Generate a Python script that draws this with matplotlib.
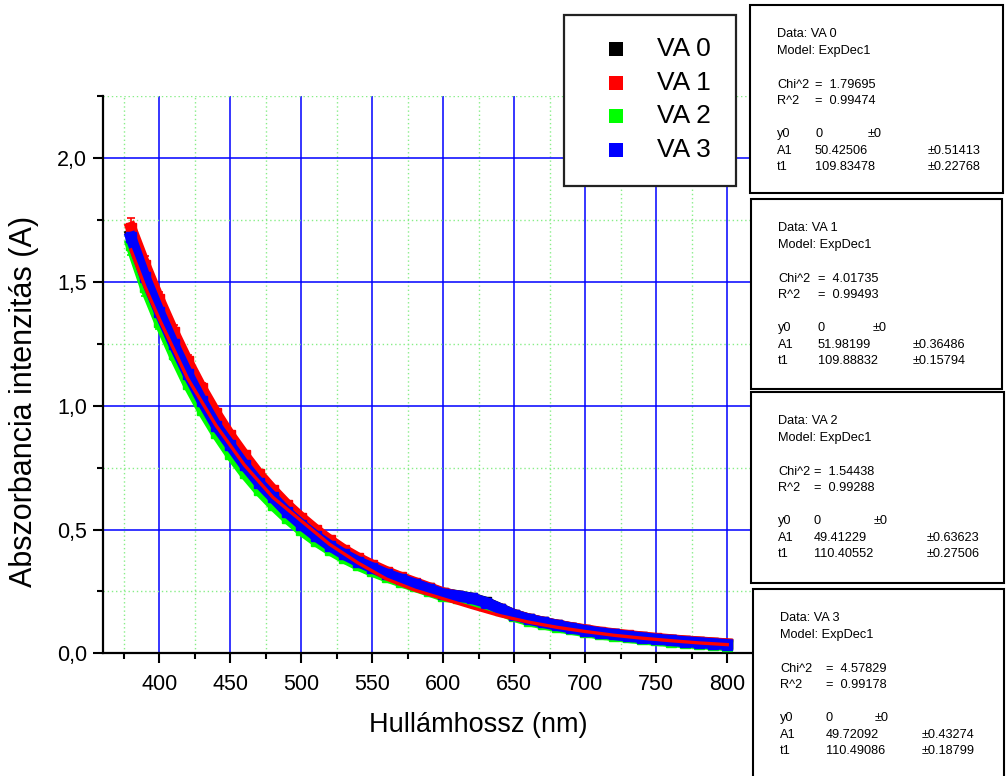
import matplotlib.pyplot as plt
from matplotlib.patches import Rectangle
from matplotlib.ticker import MultipleLocator, FuncFormatter

plt.rcParams['font.family'] = ['Liberation Sans', 'DejaVu Sans']

# wavelength (nm) and absorbance, every 10 nm
wl = [380, 390, 400, 410, 420, 430, 440, 450, 460, 470, 480, 490, 500, 510, 520,
      530, 540, 550, 560, 570, 580, 590, 600, 610, 620, 630, 640, 650, 660, 670,
      680, 690, 700, 710, 720, 730, 740, 750, 760, 770, 780, 790, 800]

va0 = [1.69, 1.53, 1.39, 1.26, 1.14, 1.03, 0.93, 0.845, 0.765, 0.695, 0.635, 0.575, 0.525, 0.48, 0.44,
       0.405, 0.375, 0.348, 0.323, 0.302, 0.282, 0.262, 0.242, 0.233, 0.223, 0.206, 0.181, 0.156, 0.139, 0.126,
       0.114, 0.103, 0.093, 0.084, 0.077, 0.070, 0.064, 0.058, 0.053, 0.048, 0.044, 0.040, 0.036]
va1 = [1.72, 1.57, 1.43, 1.30, 1.18, 1.07, 0.97, 0.88, 0.80, 0.725, 0.66, 0.60, 0.548, 0.50, 0.457,
       0.418, 0.385, 0.356, 0.33, 0.307, 0.286, 0.265, 0.244, 0.231, 0.219, 0.201, 0.178, 0.155, 0.139, 0.126,
       0.114, 0.104, 0.095, 0.086, 0.079, 0.072, 0.066, 0.060, 0.055, 0.050, 0.046, 0.042, 0.038]
va2 = [1.65, 1.48, 1.34, 1.21, 1.09, 0.985, 0.89, 0.805, 0.728, 0.66, 0.60, 0.546, 0.497, 0.455, 0.418,
       0.385, 0.356, 0.331, 0.309, 0.289, 0.27, 0.251, 0.231, 0.223, 0.213, 0.197, 0.173, 0.149, 0.132, 0.119,
       0.107, 0.097, 0.087, 0.078, 0.071, 0.064, 0.058, 0.052, 0.047, 0.043, 0.039, 0.035, 0.031]
va3 = [1.68, 1.52, 1.38, 1.25, 1.13, 1.02, 0.92, 0.84, 0.76, 0.69, 0.63, 0.57, 0.52, 0.475, 0.435,
       0.40, 0.37, 0.345, 0.32, 0.30, 0.28, 0.26, 0.24, 0.232, 0.222, 0.205, 0.18, 0.155, 0.138, 0.125,
       0.113, 0.102, 0.092, 0.083, 0.076, 0.069, 0.063, 0.057, 0.052, 0.047, 0.043, 0.039, 0.035]
err = [0.04, 0.035, 0.03, 0.027, 0.024, 0.021, 0.019, 0.017, 0.015, 0.014, 0.013, 0.012, 0.011, 0.01, 0.009,
       0.008, 0.008, 0.007, 0.007, 0.006, 0.006, 0.006, 0.005, 0.005, 0.005, 0.005, 0.004, 0.004, 0.004, 0.004,
       0.003, 0.003, 0.003, 0.003, 0.003, 0.003, 0.003, 0.002, 0.002, 0.002, 0.002, 0.002, 0.002]

# fitted ExpDec1 curve
fit_wl = [380, 390, 400, 420, 440, 460, 480, 500, 520, 540, 560, 580, 600,
          620, 640, 660, 680, 700, 720, 740, 760, 780, 800]
fit_y = [1.63, 1.48, 1.35, 1.11, 0.92, 0.76, 0.63, 0.535, 0.44, 0.365, 0.30, 0.255, 0.22,
         0.185, 0.152, 0.126, 0.105, 0.088, 0.073, 0.061, 0.051, 0.042, 0.035]

series = [va0, va1, va2, va3]
names = ['VA 0', 'VA 1', 'VA 2', 'VA 3']
colors = ['#000000', '#ff0000', '#00ff00', '#0000ff']

# fit results shown in the boxes
chi2 = ['1.79695', '4.01735', '1.54438', '4.57829']
r2 = ['0.99474', '0.99493', '0.99288', '0.99178']
a1 = ['50.42506', '51.98199', '49.41229', '49.72092']
a1_err = ['0.51413', '0.36486', '0.63623', '0.43274']
t1 = ['109.83478', '109.88832', '110.40552', '110.49086']
t1_err = ['0.22768', '0.15794', '0.27506', '0.18799']

W, H = 1006, 776
fig = plt.figure(figsize=(W / 100, H / 100), dpi=100)


def fx(px):
    return px / W


def fy(py):
    return 1 - py / H


ax = fig.add_axes([fx(102.5), fy(653.3), fx(755.7) - fx(102.5), fy(96.4) - fy(653.3)])

for vals, c in zip(series, colors):
    ax.errorbar(wl, vals, yerr=err, fmt='s-', color=c, ms=7, lw=8,
                elinewidth=1.2, capsize=3, capthick=1.2, zorder=3)
ax.plot(fit_wl, fit_y, color='#ff0000', lw=2.4, zorder=4)

ax.set_xlim(360, 820)
ax.set_ylim(0, 2.25)
ax.xaxis.set_major_locator(MultipleLocator(50))
ax.xaxis.set_minor_locator(MultipleLocator(25))
ax.yaxis.set_major_locator(MultipleLocator(0.5))
ax.yaxis.set_minor_locator(MultipleLocator(0.25))
ax.yaxis.set_major_formatter(FuncFormatter(lambda v, p: f'{v:.1f}'.replace('.', ',')))
ax.xaxis.set_major_formatter(FuncFormatter(lambda v, p: '' if v < 400 else f'{v:.0f}'))

ax.grid(True, which='major', color='#0000ff', lw=1.1, ls='-', zorder=0)
ax.grid(True, which='minor', color='#88ee88', lw=1.0, ls=(0, (1, 2)), zorder=0)
ax.set_axisbelow(True)

ax.spines['top'].set_visible(False)
ax.spines['right'].set_visible(False)
ax.spines['left'].set_linewidth(1.6)
ax.spines['bottom'].set_linewidth(1.6)
ax.tick_params(which='major', length=7, width=1.5, labelsize=15.5)
ax.tick_params(axis='x', which='major', pad=8)
ax.tick_params(axis='y', which='major', pad=4)
ax.tick_params(which='minor', length=4, width=1.5)

ax.set_xlabel('Hullámhossz (nm)', fontsize=19.5)
ax.xaxis.set_label_coords((478 - 102.5) / (755.7 - 102.5), -(725 - 653.3) / (653.3 - 96.4))
ax.set_ylabel('Abszorbancia intenzitás (A)', fontsize=22)
ax.yaxis.set_label_coords(-(102.5 - 24) / (755.7 - 102.5), (653.3 - 401) / (653.3 - 96.4))
ax.xaxis.label.set_va('center')
ax.yaxis.label.set_va('center')

# legend box
fig.add_artist(Rectangle((fx(564), fy(186)), fx(736) - fx(564), fy(15) - fy(186),
                         transform=fig.transFigure, facecolor='white', edgecolor='#222222',
                         lw=1.6, zorder=10))
for i, (n, c) in enumerate(zip(names, colors)):
    yc = 49 + i * 33.7
    fig.add_artist(Rectangle((fx(609), fy(yc + 7)), fx(14), fx(14) * W / H,
                             transform=fig.transFigure, facecolor=c, edgecolor='none', zorder=11))
    fig.text(fx(657), fy(yc), n, fontsize=19, va='center', ha='left', zorder=12)

# fit result boxes
box_tops = [5, 199, 392, 589]
box_bottoms = [193, 389, 583, 790]
box_lefts = [750, 751, 751, 753]
box_rights = [1003, 1002, 1004, 1004]
col_val = [813, 816, 812, 824]
col_pm0 = [868, 873, 874, 875]
col_err = [928, 913, 927, 922]

for i in range(4):
    top, bot = box_tops[i], box_bottoms[i]
    fig.add_artist(Rectangle((fx(box_lefts[i]), fy(bot)), fx(box_rights[i] - box_lefts[i]), fy(top) - fy(bot),
                             transform=fig.transFigure, facecolor='white', edgecolor='black',
                             lw=1.5, zorder=10, clip_on=False))
    lx = box_lefts[i] + 27
    kw = dict(fontsize=9.2, va='center', ha='left', zorder=12)
    fig.text(fx(lx), fy(top + 29), f'Data: {names[i]}', **kw)
    fig.text(fx(lx), fy(top + 46), 'Model: ExpDec1', **kw)
    fig.text(fx(lx), fy(top + 80), 'Chi^2', **kw)
    fig.text(fx(col_val[i] + 2), fy(top + 80), f'=  {chi2[i]}', **kw)
    fig.text(fx(lx), fy(top + 96), 'R^2', **kw)
    fig.text(fx(col_val[i] + 2), fy(top + 96), f'=  {r2[i]}', **kw)
    fig.text(fx(lx), fy(top + 129), 'y0', **kw)
    fig.text(fx(col_val[i] + 2), fy(top + 129), '0', **kw)
    fig.text(fx(col_pm0[i]), fy(top + 129), '±0', **kw)
    fig.text(fx(lx), fy(top + 146), 'A1', **kw)
    fig.text(fx(col_val[i] + 2), fy(top + 146), a1[i], **kw)
    fig.text(fx(col_err[i]), fy(top + 146), f'±{a1_err[i]}', **kw)
    fig.text(fx(lx), fy(top + 162), 't1', **kw)
    fig.text(fx(col_val[i] + 2), fy(top + 162), t1[i], **kw)
    fig.text(fx(col_err[i]), fy(top + 162), f'±{t1_err[i]}', **kw)

fig.savefig('out.png', dpi=100)
